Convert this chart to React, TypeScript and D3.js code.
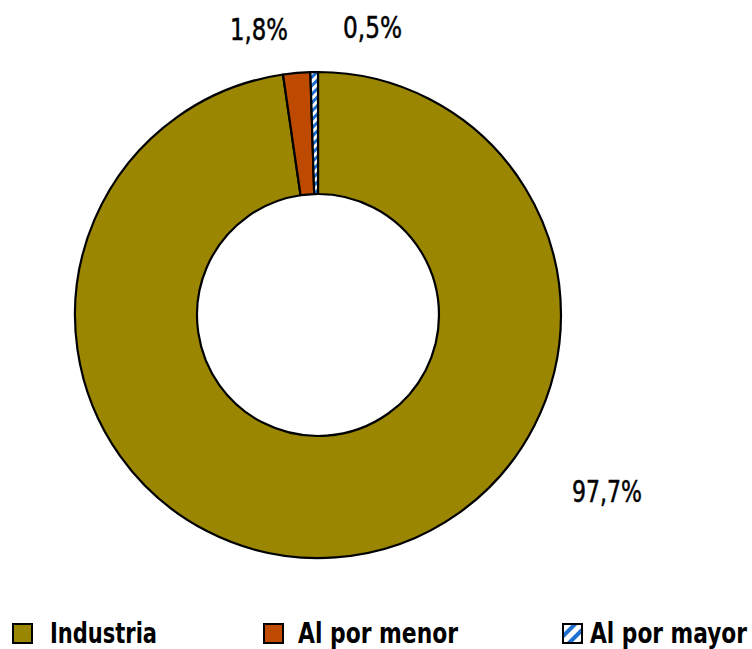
import React from "react";
import * as d3 from "d3";

const categories = ["Industria", "Al por menor", "Al por mayor"];
const values = [97.7, 1.8, 0.5];
const valueLabels = ["97,7%", "1,8%", "0,5%"];
const colors = ["#9A8600", "#BE4A00", "url(#stripes)"];

const W = 752;
const H = 649;
const cx = 318;
const cy = 315;
const R = 243;
const r = 121;
const FONT = "'DejaVu Sans Condensed', 'DejaVu Sans', sans-serif";

// label start x, baseline y, text width
const labelPos: [number, number, number][] = [
  [572, 502, 70],
  [230, 40, 58],
  [343, 38, 59],
];
// legend square x, text x, text width
const legendX: [number, number, number][] = [
  [12, 50, 107],
  [263, 298, 160],
  [562, 590, 157],
];

export default function App() {
  const pie = d3.pie<number>().sort(null).value((d) => d);
  const arcs = pie(values);
  const arc = d3.arc<d3.PieArcDatum<number>>().innerRadius(r).outerRadius(R);

  return (
    <svg width={W} height={H} style={{ position: "absolute", left: 0, top: 0 }}>
      <defs>
        <pattern id="stripes" patternUnits="userSpaceOnUse" width="6" height="6" patternTransform="rotate(45)">
          <rect width="6" height="6" fill="#ffffff" />
          <rect width="3" height="6" fill="#1E6FD0" />
        </pattern>
        <pattern id="stripesLeg" patternUnits="userSpaceOnUse" width="9" height="9" patternTransform="rotate(45)">
          <rect width="9" height="9" fill="#ffffff" />
          <rect width="4" height="9" fill="#1E6FD0" />
        </pattern>
      </defs>
      <rect width={W} height={H} fill="#ffffff" />
      <g transform={`translate(${cx},${cy})`}>
        {arcs.map((a, i) => (
          <path key={i} d={arc(a) || ""} fill={colors[i]} stroke="#000" strokeWidth={2.2} strokeLinejoin="round" />
        ))}
      </g>
      {valueLabels.map((t, i) => (
        <text
          key={t}
          x={labelPos[i][0]}
          y={labelPos[i][1]}
          textLength={labelPos[i][2]}
          lengthAdjust="spacingAndGlyphs"
          fontFamily={FONT}
          fontSize={31}
          stroke="#000"
          strokeWidth={0.5}
          fill="#000"
        >
          {t}
        </text>
      ))}
      {categories.map((c, i) => (
        <g key={c}>
          <rect
            x={legendX[i][0] + 1}
            y={624}
            width={19}
            height={19}
            fill={i === 2 ? "url(#stripesLeg)" : colors[i]}
            stroke="#000"
            strokeWidth={2}
          />
          <text
            x={legendX[i][1]}
            y={643}
            textLength={legendX[i][2]}
            lengthAdjust="spacingAndGlyphs"
            fontFamily={FONT}
            fontWeight="bold"
            fontSize={29}
            fill="#000"
          >
            {c}
          </text>
        </g>
      ))}
    </svg>
  );
}
